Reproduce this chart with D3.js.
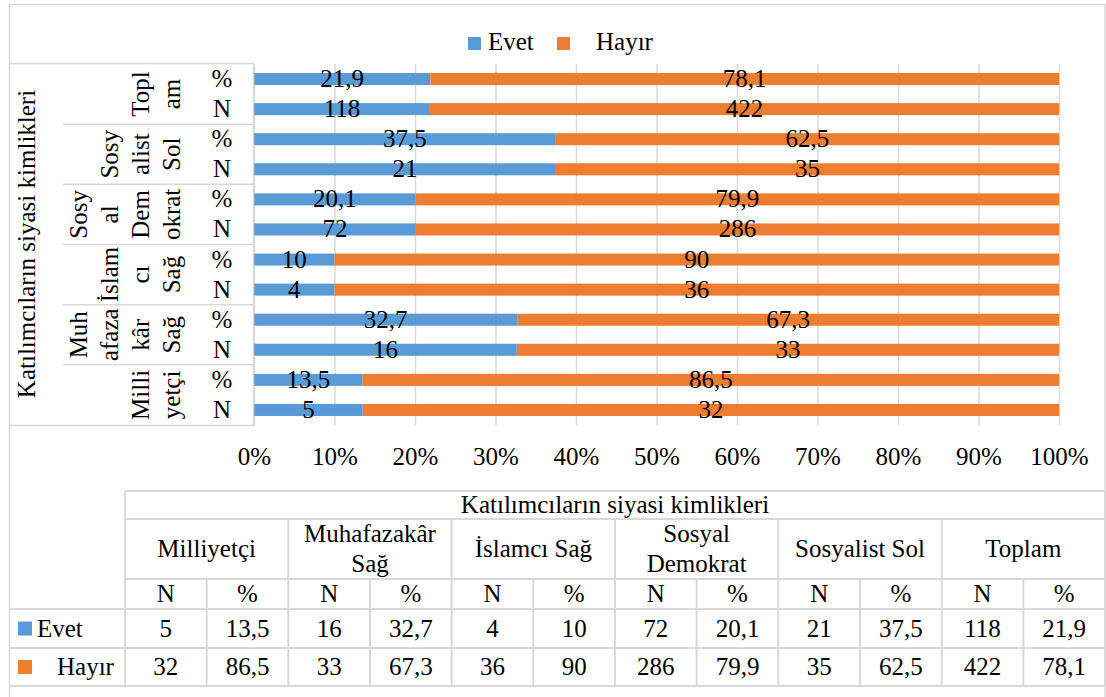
<!DOCTYPE html>
<html>
<head>
<meta charset="utf-8">
<script src="https://cdn.jsdelivr.net/npm/d3@7"></script>
<style>
  body { margin: 0; background: #fff; }
  text { font-family: "Liberation Serif", "Times New Roman", serif; fill: #000; }
</style>
</head>
<body>
<div id="chart"></div>
<script>
// Data (bottom to top order as in the table)
var categories = ["Milliyetçi", "Muhafazakâr Sağ", "İslamcı Sağ", "Sosyal Demokrat", "Sosyalist Sol", "Toplam"];
var axisLines = [["Milli", "yetçi"], ["Muh", "afaza", "kâr", "Sağ"], ["İslam", "cı", "Sağ"], ["Sosy", "al", "Dem", "okrat"], ["Sosy", "alist", "Sol"], ["Topl", "am"]];
var tableLines = [["Milliyetçi"], ["Muhafazakâr", "Sağ"], ["İslamcı Sağ"], ["Sosyal", "Demokrat"], ["Sosyalist Sol"], ["Toplam"]];
var evetN = [5, 16, 4, 72, 21, 118];
var hayirN = [32, 33, 36, 286, 35, 422];
var evetPct = [13.5, 32.7, 10, 20.1, 37.5, 21.9];
var hayirPct = [86.5, 67.3, 90, 79.9, 62.5, 78.1];
var seriesNames = ["Evet", "Hayır"];
var colors = ["#5B9BD5", "#ED7D31"];
var tickValues = [0, 0.1, 0.2, 0.3, 0.4, 0.5, 0.6, 0.7, 0.8, 0.9, 1];
var outerTitle = "Katılımcıların siyasi kimlikleri";

var gridColor = "#d9d9d9";
var fs = 25;

var svg = d3.select("#chart").append("svg")
  .attr("width", 1106)
  .attr("height", 697);

// Chart border
svg.append("rect")
  .attr("x", 9.5).attr("y", 4.5)
  .attr("width", 1095.5).attr("height", 720)
  .attr("fill", "none").attr("stroke", gridColor).attr("stroke-width", 1.5);

// Build rows: top to bottom Toplam % , Toplam N, ...
var rows = [];
for (var i = categories.length - 1; i >= 0; i--) {
  rows.push({ key: i + "-%", cat: i, kind: "%", vals: [evetPct[i], hayirPct[i]], labels: [evetPct[i], hayirPct[i]] });
  rows.push({ key: i + "-N", cat: i, kind: "N", vals: [evetN[i], hayirN[i]], labels: [evetN[i], hayirN[i]] });
}

var x = d3.scaleLinear().domain([0, 1]).range([254, 1059]);
var y = d3.scaleBand()
  .domain(rows.map(function (d) { return d.key; }))
  .range([64, 425])
  .paddingInner(0.6)
  .paddingOuter(0.3);

// Gridlines
var grid = svg.append("g")
  .attr("transform", "translate(0,425)")
  .call(d3.axisBottom(x).tickValues(tickValues).tickSize(-361).tickFormat(""));
grid.select(".domain").remove();
grid.selectAll("line").attr("stroke", gridColor).attr("stroke-width", 1.5);

// Tick labels
var xAxis = svg.append("g")
  .attr("transform", "translate(0,425)")
  .call(d3.axisBottom(x).tickValues(tickValues).tickSize(0).tickPadding(0)
    .tickFormat(function (d) { return Math.round(d * 100) + "%"; }));
xAxis.select(".domain").remove();
xAxis.selectAll("text")
  .attr("y", 40).attr("dy", 0)
  .style("font-family", "Liberation Serif")
  .style("font-size", fs + "px")
  .attr("fill", "#000");

// Stacked bars
var stacked = rows.map(function (r) {
  var total = r.vals[0] + r.vals[1];
  var x0 = 0;
  return r.vals.map(function (v, j) {
    var seg = { row: r, j: j, x0: x0, x1: x0 + v / total, label: r.labels[j] };
    x0 += v / total;
    return seg;
  });
});

var bars = svg.append("g");
stacked.forEach(function (segs) {
  bars.selectAll(null)
    .data(segs)
    .enter()
    .append("rect")
    .attr("x", function (d) { return x(d.x0); })
    .attr("y", function (d) { return y(d.row.key); })
    .attr("width", function (d) { return x(d.x1) - x(d.x0); })
    .attr("height", y.bandwidth())
    .attr("fill", function (d) { return colors[d.j]; });

  bars.selectAll(null)
    .data(segs)
    .enter()
    .append("text")
    .attr("x", function (d) { return (x(d.x0) + x(d.x1)) / 2; })
    .attr("y", function (d) { return y(d.row.key) + y.bandwidth() / 2 + 8; })
    .attr("text-anchor", "middle")
    .style("font-size", fs + "px")
    .text(function (d) { return String(d.label).replace(".", ","); });
});

// Category axis (multi-level)
var axisG = svg.append("g");
var step = y.step();
var groupTop = function (k) { return 64 + k * 2 * step; };

axisG.append("line")
  .attr("x1", 253.5).attr("x2", 253.5).attr("y1", 63).attr("y2", 425.5)
  .attr("stroke", gridColor).attr("stroke-width", 1.5);
axisG.append("line")
  .attr("x1", 10).attr("x2", 254).attr("y1", 63.5).attr("y2", 63.5)
  .attr("stroke", gridColor).attr("stroke-width", 1.5);
axisG.append("line")
  .attr("x1", 10).attr("x2", 254).attr("y1", 425.5).attr("y2", 425.5)
  .attr("stroke", gridColor).attr("stroke-width", 1.5);
for (var k = 1; k < categories.length; k++) {
  axisG.append("line")
    .attr("x1", 63).attr("x2", 254).attr("y1", groupTop(k)).attr("y2", groupTop(k))
    .attr("stroke", gridColor).attr("stroke-width", 1.5);
}

// inner level % / N
axisG.selectAll(".inner")
  .data(rows)
  .enter()
  .append("text")
  .attr("x", 222)
  .attr("y", function (d) { return y(d.key) + y.bandwidth() / 2 + 8; })
  .attr("text-anchor", "middle")
  .style("font-size", fs + "px")
  .text(function (d) { return d.kind; });

// middle level: rotated, wrapped category names
rows.filter(function (d) { return d.kind === "%"; }).forEach(function (r, gi) {
  var cy = groupTop(gi) + step;
  var lines = axisLines[r.cat];
  lines.forEach(function (ln, li) {
    var cx = 172 - (lines.length - 1 - li) * 31;
    axisG.append("text")
      .attr("transform", "translate(" + (cx + 8) + "," + cy + ") rotate(-90)")
      .attr("text-anchor", "middle")
      .style("font-size", fs + "px")
      .text(ln);
  });
});

// outer level
axisG.append("text")
  .attr("transform", "translate(" + 35 + "," + 244 + ") rotate(-90)")
  .attr("text-anchor", "middle")
  .style("font-size", fs + "px")
  .text(outerTitle);

// Legend
var legend = svg.append("g");
var legendX = [468, 557];
var legendTextX = [488, 596];
seriesNames.forEach(function (name, j) {
  legend.append("rect")
    .attr("x", legendX[j]).attr("y", 37)
    .attr("width", 13).attr("height", 13)
    .attr("fill", colors[j]);
  legend.append("text")
    .attr("x", legendTextX[j]).attr("y", 50)
    .style("font-size", fs + "px")
    .text(name);
});

// Data table
var tx0 = 125, tx1 = 1105;
var colW = (tx1 - tx0) / 12;
var rowY = [491, 519, 579, 609, 648, 686];
var table = svg.append("g");
function hline(x1, x2, yy) {
  table.append("line").attr("x1", x1).attr("x2", x2).attr("y1", yy).attr("y2", yy)
    .attr("stroke", gridColor).attr("stroke-width", 2);
}
function vline(xx, y1, y2) {
  table.append("line").attr("x1", xx).attr("x2", xx).attr("y1", y1).attr("y2", y2)
    .attr("stroke", gridColor).attr("stroke-width", 2);
}
hline(tx0, tx1, rowY[0]);
hline(tx0, tx1, rowY[1]);
hline(tx0, tx1, rowY[2]);
hline(10, tx1, rowY[3]);
hline(10, tx1, rowY[4]);
hline(10, tx1, rowY[5]);
vline(tx0, rowY[0], rowY[5]);
vline(tx1, rowY[0], rowY[5]);
for (var c = 1; c < 12; c++) {
  var xx = tx0 + c * colW;
  vline(xx, c % 2 === 0 ? rowY[1] : rowY[2], rowY[5]);
}

function cellText(cx, cy, s) {
  table.append("text")
    .attr("x", cx).attr("y", cy + 8)
    .attr("text-anchor", "middle")
    .style("font-size", fs + "px")
    .text(s);
}

cellText((tx0 + tx1) / 2, (rowY[0] + rowY[1]) / 2, outerTitle);
categories.forEach(function (cat, i) {
  var cx = tx0 + (2 * i + 1) * colW;
  var lines = tableLines[i];
  var mid = (rowY[1] + rowY[2]) / 2;
  lines.forEach(function (ln, li) {
    var off = lines.length === 1 ? 0 : (li === 0 ? -15 : 15);
    cellText(cx, mid + off, ln);
  });
  cellText(tx0 + (2 * i + 0.5) * colW, (rowY[2] + rowY[3]) / 2, "N");
  cellText(tx0 + (2 * i + 1.5) * colW, (rowY[2] + rowY[3]) / 2, "%");
  cellText(tx0 + (2 * i + 0.5) * colW, (rowY[3] + rowY[4]) / 2, String(evetN[i]));
  cellText(tx0 + (2 * i + 1.5) * colW, (rowY[3] + rowY[4]) / 2, String(evetPct[i]).replace(".", ","));
  cellText(tx0 + (2 * i + 0.5) * colW, (rowY[4] + rowY[5]) / 2, String(hayirN[i]));
  cellText(tx0 + (2 * i + 1.5) * colW, (rowY[4] + rowY[5]) / 2, String(hayirPct[i]).replace(".", ","));
});

// table legend keys
var keyX = [18, 18];
var keyTextX = [37, 57];
seriesNames.forEach(function (name, j) {
  var cy = (rowY[3 + j] + rowY[4 + j]) / 2;
  table.append("rect")
    .attr("x", keyX[j]).attr("y", cy - 7)
    .attr("width", 14).attr("height", 14)
    .attr("fill", colors[j]);
  table.append("text")
    .attr("x", keyTextX[j]).attr("y", cy + 8)
    .style("font-size", fs + "px")
    .text(name);
});
</script>
</body>
</html>
